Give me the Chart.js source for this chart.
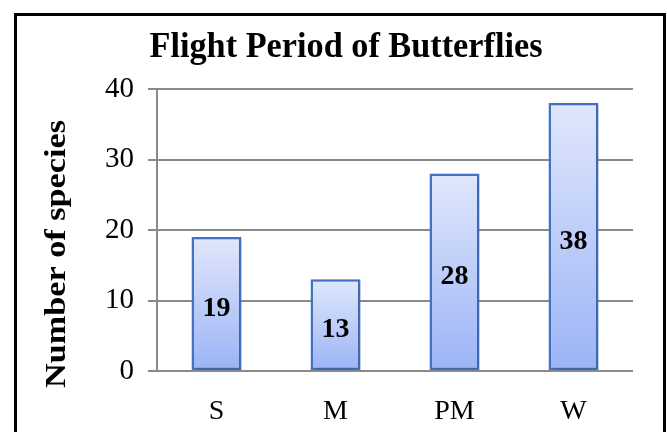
<!DOCTYPE html>
<html>
<head>
<meta charset="utf-8">
<script src="https://cdn.jsdelivr.net/npm/chart.js@4/dist/chart.umd.min.js"></script>
<style>
  html, body { margin: 0; padding: 0; background: #fff; overflow: hidden; }
  #wrap { position: relative; width: 667px; height: 432px; }
  #frame {
    position: absolute; left: 14px; top: 13px; width: 646px; height: 440px;
    border: 3px solid #000; pointer-events: none;
  }
</style>
</head>
<body>
<div id="wrap">
  <canvas id="chart" width="667" height="432"></canvas>
  <div id="frame"></div>
</div>
<script>
const categories = ["S", "M", "PM", "W"];
const speciesCounts = [19, 13, 28, 38];
const yTicks = [0, 10, 20, 30, 40];
const chartTitle = "Flight Period of Butterflies";
const yTitle = "Number of species";

const serif = "'Liberation Serif', 'Times New Roman', serif";

// per-bar vertical gradient, light at the top, blue at the bottom
function barFill(context) {
  const chart = context.chart;
  const yScale = chart.scales.y;
  if (!chart.chartArea || !yScale) return "#bccbf8";
  const top = yScale.getPixelForValue(context.raw);
  const bottom = yScale.getPixelForValue(0);
  const g = chart.ctx.createLinearGradient(0, top, 0, bottom);
  g.addColorStop(0, "#e0e7fc");
  g.addColorStop(1, "#9cb4f6");
  return g;
}

// fit a text run to a given length (the original text is a bit condensed/stretched)
function fitText(ctx, text, length) {
  const w = ctx.measureText(text).width;
  ctx.scale(length / w, 1);
  ctx.fillText(text, 0, 0);
}

// soft drop shadow under the bars
const barShadow = {
  id: "barShadow",
  beforeDatasetsDraw(chart) {
    const ctx = chart.ctx;
    ctx.save();
    ctx.shadowColor = "rgba(0,0,0,0.22)";
    ctx.shadowBlur = 3;
    ctx.shadowOffsetX = 1.5;
    ctx.shadowOffsetY = 1.5;
  },
  afterDatasetsDraw(chart) {
    chart.ctx.restore();
  }
};

const titles = {
  id: "titles",
  afterDraw(chart) {
    const ctx = chart.ctx;
    ctx.save();
    ctx.fillStyle = "#000";
    ctx.textAlign = "center";
    ctx.textBaseline = "alphabetic";
    ctx.font = "bold 36px " + serif;
    ctx.translate(346, 57);
    fitText(ctx, chartTitle, 393);
    ctx.restore();

    ctx.save();
    ctx.fillStyle = "#000";
    ctx.textAlign = "center";
    ctx.textBaseline = "alphabetic";
    ctx.font = "bold 30px " + serif;
    ctx.translate(65, 254);
    ctx.rotate(-Math.PI / 2);
    fitText(ctx, yTitle, 268);
    ctx.restore();
  }
};

const valueLabels = {
  id: "valueLabels",
  afterDatasetsDraw(chart) {
    const ctx = chart.ctx;
    const meta = chart.getDatasetMeta(0);
    ctx.save();
    ctx.font = "bold 28px " + serif;
    ctx.fillStyle = "#000";
    ctx.textAlign = "center";
    ctx.textBaseline = "middle";
    meta.data.forEach((bar, i) => {
      const mid = (bar.y + bar.base) / 2 + 5;
      ctx.fillText(String(speciesCounts[i]), bar.x, mid);
    });
    ctx.restore();
  }
};

new Chart(document.getElementById("chart"), {
  type: "bar",
  data: {
    labels: categories,
    datasets: [{
      data: speciesCounts,
      backgroundColor: barFill,
      borderColor: "#4472c4",
      borderWidth: 2.5,
      borderSkipped: false,
      barPercentage: 0.84,
      categoryPercentage: 0.5
    }]
  },
  options: {
    responsive: false,
    animation: false,
    layout: { padding: { top: 89, right: 34, bottom: 0, left: 0 } },
    plugins: {
      legend: { display: false },
      tooltip: { enabled: false },
      title: { display: false }
    },
    scales: {
      x: {
        grid: { display: false },
        border: { display: false },
        ticks: {
          color: "#000",
          padding: 16,
          font: { family: serif, size: 28 }
        },
        afterFit(scale) { scale.height = 61; }
      },
      y: {
        min: 0,
        max: 40,
        afterBuildTicks(scale) { scale.ticks = yTicks.map(v => ({ value: v })); },
        grid: { color: "#8a8a8a", lineWidth: 2, tickLength: 9 },
        border: { display: true, color: "#8a8a8a", width: 2 },
        ticks: {
          color: "#000",
          padding: 14,
          font: { family: serif, size: 29 }
        },
        afterFit(scale) { scale.width = 157; }
      }
    }
  },
  plugins: [barShadow, valueLabels, titles]
});
</script>
</body>
</html>
